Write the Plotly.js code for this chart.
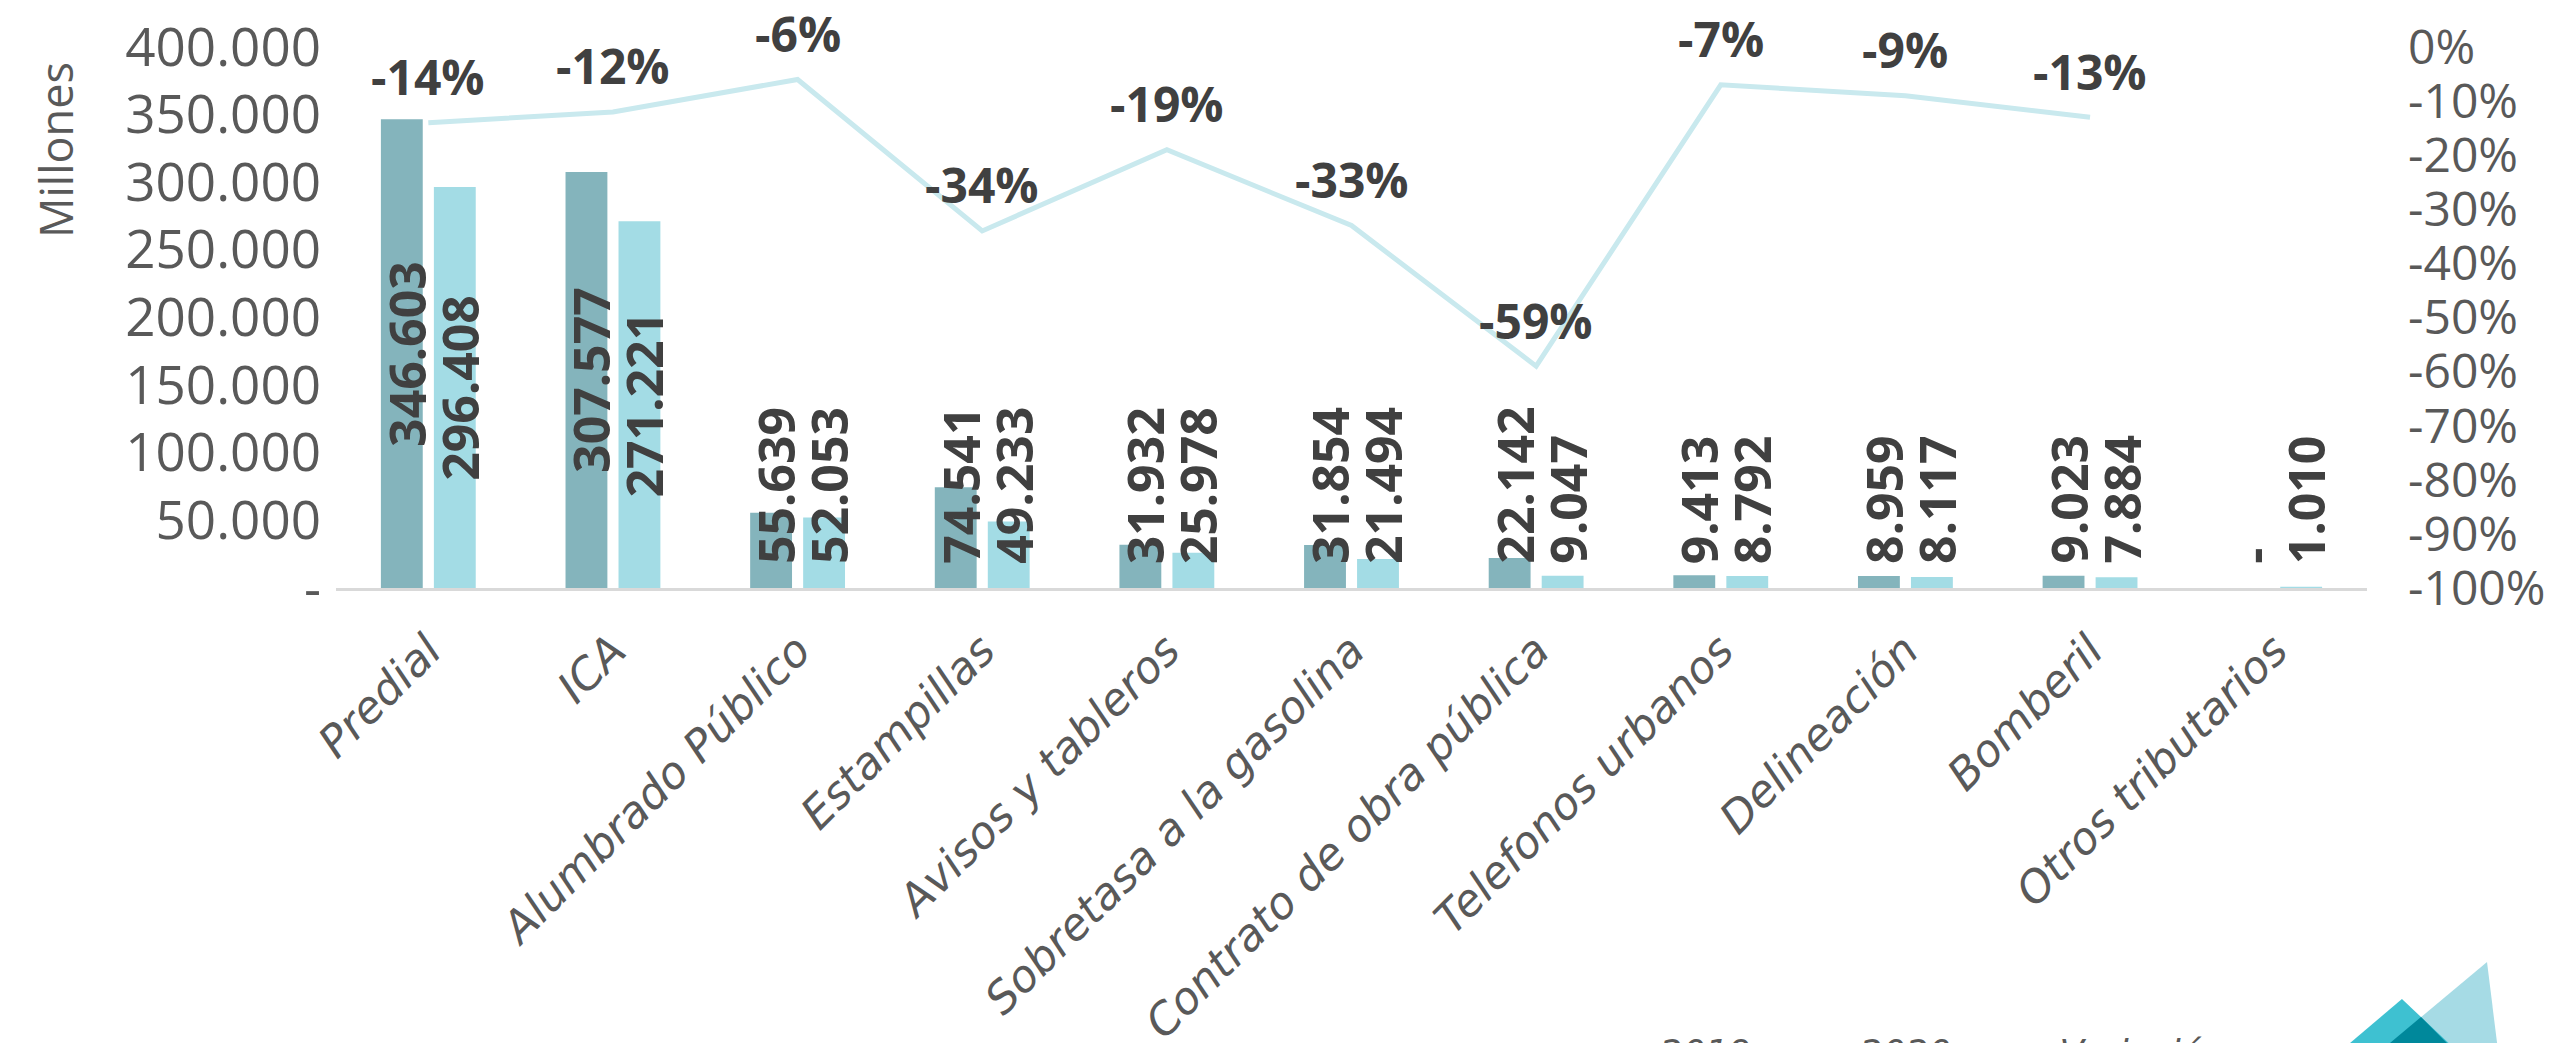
<!DOCTYPE html>
<html>
<head>
<meta charset="utf-8">
<script src="https://cdn.plot.ly/plotly-3.0.1.min.js"></script>
<style>
  html, body { margin: 0; padding: 0; background: #ffffff; }
  #chart { width: 2560px; height: 1043px; }
</style>
</head>
<body>
<div id="chart"></div>
<script>
// ---- Data ----
const categories = ["Predial", "ICA", "Alumbrado Público", "Estampillas", "Avisos y tableros",
  "Sobretasa a la gasolina", "Contrato de obra pública", "Telefonos urbanos", "Delineación",
  "Bomberil", "Otros tributarios"];
const serie2019 = [346603, 307577, 55639, 74541, 31932, 31854, 22142, 9413, 8959, 9023, 0];
const serie2020 = [296408, 271221, 52053, 49233, 25978, 21494, 9047, 8792, 8117, 7884, 1010];
const variacion = [-0.14, -0.12, -0.06, -0.34, -0.19, -0.33, -0.59, -0.07, -0.09, -0.13, null];
const seriesNames = ["2019", "2020", "Variación"];
const yTitle = "Millones";
const leftTickVals = [0, 50000, 100000, 150000, 200000, 250000, 300000, 350000, 400000];
const leftTickText = ["-", "50.000", "100.000", "150.000", "200.000", "250.000", "300.000", "350.000", "400.000"];
const rightTickVals = [0, -0.1, -0.2, -0.3, -0.4, -0.5, -0.6, -0.7, -0.8, -0.9, -1];
const rightTickText = ["0%", "-10%", "-20%", "-30%", "-40%", "-50%", "-60%", "-70%", "-80%", "-90%", "-100%"];

// ---- Layout constants ----
const W = 2560, H = 1043;
const M = { l: 336, r: 193, t: 47, b: 455 };
const yMax = 400000;
const plotW = W - M.l - M.r, plotH = H - M.t - M.b;

const colDark = "#84b4bc", colLight = "#a3dce5", colLine = "#c9e9ee";
const txtDark = "#404040", txtAxis = "#595959";

function fmtMiles(v) {
  if (v === 0) return "-";
  return Math.round(v).toString().replace(/\B(?=(\d{3})+(?!\d))/g, ".");
}
function fmtPct(v) { return Math.round(v * 100) + "%"; }

const traces = [
  { type: "bar", name: seriesNames[0], x: categories, y: serie2019, marker: { color: colDark },
    hoverinfo: "skip" },
  { type: "bar", name: seriesNames[1], x: categories, y: serie2020, marker: { color: colLight },
    hoverinfo: "skip" },
  { type: "scatter", mode: "lines", name: seriesNames[2], x: categories, y: variacion, yaxis: "y2",
    line: { color: colLine, width: 5 }, connectgaps: false, hoverinfo: "skip" }
];

// ---- Data labels ----
const annotations = [];
const barLabelFont = { family: "Open Sans", size: 50, color: txtDark, weight: 700 };
const pctLabelFont = { family: "Open Sans", size: 48, color: txtDark, weight: 700 };
function addBarLabels(values, xshift) {
  values.forEach((v, i) => {
    const txt = fmtMiles(v);
    const halfPx = v / yMax * plotH / 2;
    const estLen = txt.length * 27;
    const centered = halfPx > estLen / 2 + 24;
    annotations.push({
      x: categories[i], y: centered ? v / 2 : 0, xref: "x", yref: "y",
      text: txt, showarrow: false, textangle: -90, font: barLabelFont,
      xanchor: "center", yanchor: centered ? "middle" : "bottom",
      xshift: xshift, yshift: centered ? 0 : 22
    });
  });
}
addBarLabels(serie2019, -22);
addBarLabels(serie2020, 31);
variacion.forEach((v, i) => {
  if (v === null) return;
  annotations.push({
    x: categories[i], y: v, xref: "x", yref: "y2", text: fmtPct(v), showarrow: false,
    font: pctLabelFont, xanchor: "center", yanchor: "middle", yshift: 46
  });
});
// y-axis title, placed near the top of the axis as in the reference
annotations.push({
  xref: "paper", yref: "paper", x: (55 - M.l) / plotW, y: (M.t + plotH - 150) / plotH,
  text: yTitle, textangle: -90, showarrow: false, xanchor: "center", yanchor: "middle",
  font: { family: "Open Sans", size: 45, color: txtAxis }
});

// ---- Logo decoration (pixel -> paper) ----
function px(x) { return ((x - M.l) / plotW).toFixed(4); }
function py(y) { return ((M.t + plotH - y) / plotH).toFixed(4); }
function poly(pts) { return "M" + pts.map(p => px(p[0]) + "," + py(p[1])).join("L") + "Z"; }
const shapes = [
  { type: "path", xref: "paper", yref: "paper", path: poly([[2487, 962], [2504, 1100], [2322, 1100]]),
    fillcolor: "#a6dbe5", line: { width: 0 }, layer: "above" },
  { type: "path", xref: "paper", yref: "paper", path: poly([[2402, 999], [2509, 1100], [2283, 1100]]),
    fillcolor: "#3ec1d1", line: { width: 0 }, layer: "above" },
  { type: "path", xref: "paper", yref: "paper", path: poly([[2421, 1017], [2504, 1100], [2322, 1100]]),
    fillcolor: "#00889b", line: { width: 0 }, layer: "above" }
];

const layout = {
  width: W, height: H,
  margin: { l: M.l, r: M.r, t: M.t, b: M.b, autoexpand: false },
  paper_bgcolor: "#ffffff", plot_bgcolor: "#ffffff",
  barmode: "group", bargap: 0.426, bargroupgap: 0.21,
  showlegend: true,
  legend: {
    orientation: "h", x: 0.632, xanchor: "left", y: -0.80, yanchor: "top",
    font: { family: "DejaVu Sans", size: 36, color: txtAxis, style: "italic" },
    entrywidth: 155, entrywidthmode: "pixels", bgcolor: "rgba(0,0,0,0)"
  },
  xaxis: {
    type: "category", showgrid: false, zeroline: false,
    showline: true, linecolor: "#d9d9d9", linewidth: 3,
    ticks: "", tickangle: -45, ticklabelstandoff: 16,
    tickfont: { family: "DejaVu Sans", size: 44, color: txtAxis, style: "italic" }
  },
  yaxis: {
    range: [0, yMax], showgrid: false, zeroline: false, showline: false, ticks: "",
    tickmode: "array", tickvals: leftTickVals, ticktext: leftTickText,
    tickfont: { family: "Open Sans", size: 53, color: txtAxis }, ticklabelstandoff: 14
  },
  yaxis2: {
    overlaying: "y", side: "right", range: [-1, 0], showgrid: false, zeroline: false,
    showline: false, ticks: "", tickmode: "array", tickvals: rightTickVals, ticktext: rightTickText,
    tickfont: { family: "Open Sans", size: 48, color: txtAxis }, ticklabelstandoff: 40
  },
  annotations: annotations,
  shapes: shapes,
  hovermode: false
};

Plotly.newPlot("chart", traces, layout, { displayModeBar: false, staticPlot: true });
</script>
</body>
</html>
